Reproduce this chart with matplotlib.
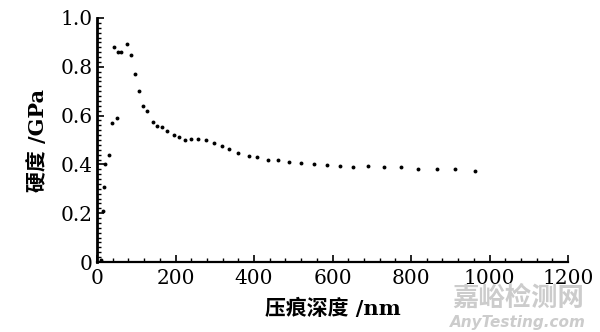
import numpy as np
import matplotlib
matplotlib.use('Agg')
import matplotlib.pyplot as plt
from matplotlib.ticker import MultipleLocator

# indentation depth (nm) and hardness (GPa)
depth = [9, 14.5, 18, 21, 31, 39, 43, 52, 54, 62, 77, 87, 98, 107, 116, 127,
         142, 154, 165, 178, 195, 209, 225, 239, 258, 277, 298, 318, 337, 360,
         387, 407, 435, 460, 490, 520, 554, 586, 619, 653, 691, 730, 775, 818,
         865, 913, 964]
hardness = [0.01, 0.21, 0.306, 0.40, 0.44, 0.57, 0.88, 0.59, 0.86, 0.86, 0.895,
            0.85, 0.77, 0.70, 0.64, 0.62, 0.574, 0.557, 0.553, 0.536, 0.519,
            0.512, 0.50, 0.505, 0.504, 0.499, 0.486, 0.475, 0.465, 0.448, 0.436,
            0.429, 0.42, 0.417, 0.409, 0.406, 0.402, 0.399, 0.395, 0.391, 0.392,
            0.388, 0.388, 0.382, 0.381, 0.380, 0.374]

xticks = [0, 200, 400, 600, 800, 1000, 1200]
yticks = [0, 0.2, 0.4, 0.6, 0.8, 1.0]
ylabels = ['0', '0.2', '0.4', '0.6', '0.8', '1.0']

cjk = ['Noto Sans CJK SC', 'DejaVu Sans']
mixed = ['DejaVu Serif', 'Noto Sans CJK SC']

fig = plt.figure(figsize=(6, 3.32), dpi=100)
ax = fig.add_axes([0.1617, 0.2108, 0.785, 0.735])

ax.plot(depth, hardness, 'o', color='black', markersize=2.8, markeredgewidth=0)

ax.set_xlim(0, 1200)
ax.set_ylim(0, 1.0)
ax.set_xticks(xticks)
ax.set_xticklabels([str(t) for t in xticks])
ax.set_yticks(yticks)
ax.set_yticklabels(ylabels)
ax.xaxis.set_minor_locator(MultipleLocator(40))
ax.yaxis.set_minor_locator(MultipleLocator(0.02))
ax.tick_params(which='both', direction='in', color='black')
ax.tick_params(which='major', length=5, width=1.2)
ax.tick_params(which='minor', length=3, width=1)
ax.tick_params(axis='y', pad=3)
ax.tick_params(axis='x', pad=5)
for lab in ax.get_xticklabels() + ax.get_yticklabels():
    lab.set_family('DejaVu Serif')
    lab.set_fontsize(14.5)

for s in ['top', 'right']:
    ax.spines[s].set_visible(False)
ax.spines['left'].set_linewidth(2)
ax.spines['bottom'].set_linewidth(1.6)

ax.set_xlabel('压痕深度 /nm', family=mixed, fontsize=15, fontweight='bold', labelpad=8)
ax.set_ylabel('硬度 /GPa', family=mixed, fontsize=15, fontweight='bold', labelpad=9)

# watermark
fig.text(0.864, 0.103, '嘉峪检测网', family=cjk, fontsize=19, color='#cccccc',
         ha='center', va='center', fontweight='bold', zorder=0)
fig.text(0.864, 0.03, 'AnyTesting.com', family='DejaVu Sans', fontsize=11,
         color='#cccccc', ha='center', va='center', style='italic', fontweight='bold')

plt.savefig('out.png', dpi=100)
